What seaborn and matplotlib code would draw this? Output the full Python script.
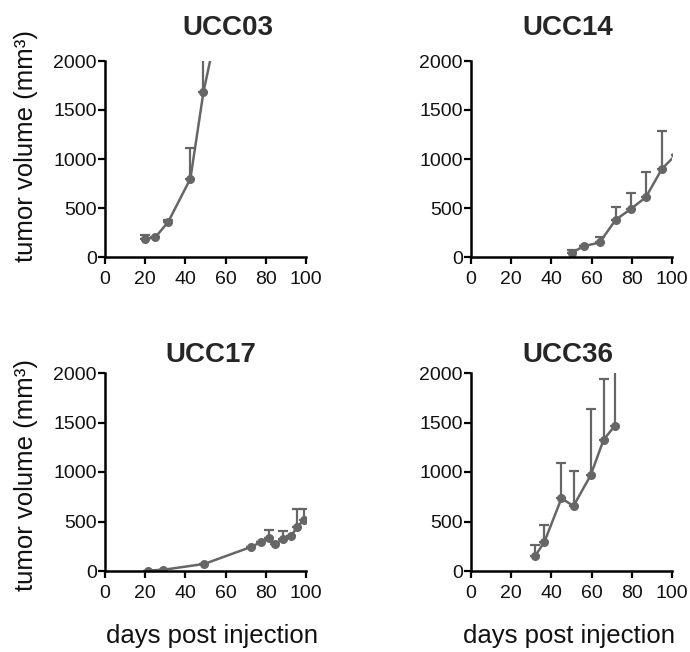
import numpy as np
import pandas as pd
import matplotlib
matplotlib.use('Agg')
import matplotlib.pyplot as plt
import seaborn as sns

# Data (upper error bars only)
ucc03_days = [20, 25, 31.5, 42.5, 49, 56]
ucc03_vol = [185, 200, 360, 800, 1685, 2360]
ucc03_err = [40, 0, 20, 310, 500, 0]

ucc14_days = [50, 56, 64, 72, 79.5, 87, 95, 102]
ucc14_vol = [40, 110, 148, 380, 490, 610, 900, 1045]
ucc14_err = [30, 0, 60, 130, 165, 260, 385, 0]

ucc17_days = [21.5, 29, 49.5, 72.5, 77.5, 81.5, 84.5, 88.5, 92.5, 95.5, 99]
ucc17_vol = [5, 12, 72, 242, 290, 330, 268, 328, 352, 440, 520]
ucc17_err = [0, 0, 0, 0, 0, 81, 0, 76, 0, 183, 103]

ucc36_days = [32, 36.5, 45, 51, 59.5, 66, 71.5]
ucc36_vol = [155, 293, 734, 657, 966, 1327, 1465]
ucc36_err = [104, 168, 360, 350, 667, 612, 700]

names = ['UCC03', 'UCC14', 'UCC17', 'UCC36']
days = [ucc03_days, ucc14_days, ucc17_days, ucc36_days]
vols = [ucc03_vol, ucc14_vol, ucc17_vol, ucc36_vol]
errs = [ucc03_err, ucc14_err, ucc17_err, ucc36_err]

sns.set_style('ticks')
plt.rcParams['font.family'] = ['Liberation Sans', 'DejaVu Sans']

col = '#666666'
fig = plt.figure(figsize=(6.9, 6.52), dpi=100)

# axes boxes in pixels: left, top, right, bottom
boxes = [(105, 61, 306, 257), (471, 61, 672, 257),
         (105, 373, 306, 571), (471, 373, 672, 571)]
title_x = [0.61, 0.48, 0.526, 0.48]
title_pad = [18.5, 18.5, 8, 8]

for i, name in enumerate(names):
    l, t, r, b = boxes[i]
    ax = fig.add_axes([l / 690, 1 - b / 652, (r - l) / 690, (b - t) / 652])
    df = pd.DataFrame({'day': days[i], 'vol': vols[i], 'err': errs[i]})
    ax.errorbar(df['day'], df['vol'], yerr=[np.zeros(len(df)), df['err']],
                fmt='none', ecolor=col, elinewidth=1.6, capsize=3.5, capthick=1.6)
    sns.lineplot(data=df, x='day', y='vol', ax=ax, color=col, lw=1.8,
                 marker='o', markersize=6.5, markeredgewidth=0, errorbar=None)
    ax.set_xlim(0, 100)
    ax.set_ylim(0, 2000)
    ax.set_xticks([0, 20, 40, 60, 80, 100])
    ax.set_yticks([0, 500, 1000, 1500, 2000])
    sns.despine(ax=ax)
    for s in ['left', 'bottom']:
        ax.spines[s].set_linewidth(1.8)
        ax.spines[s].set_color('black')
    ax.tick_params(axis='both', length=5, width=1.6, color='black',
                   labelsize=14, labelcolor='#111111')
    ax.tick_params(axis='x', pad=5)
    ax.tick_params(axis='y', pad=1)
    ax.set_title(name, fontsize=20, fontweight='bold', x=title_x[i],
                 pad=title_pad[i])
    ax.set_xlabel('')
    ax.set_ylabel('')
    if i % 2 == 0:
        ax.set_ylabel('tumor volume (mm³)', fontsize=18.5, color='#111111')
        ax.yaxis.set_label_coords(-0.333, 0.566 if i == 0 else 0.485)
    if i >= 2:
        ax.set_xlabel('days post injection', fontsize=18.5, color='#111111')
        ax.xaxis.set_label_coords(0.532 if i == 2 else 0.488, -0.27)

fig.savefig('out.png', dpi=100)
